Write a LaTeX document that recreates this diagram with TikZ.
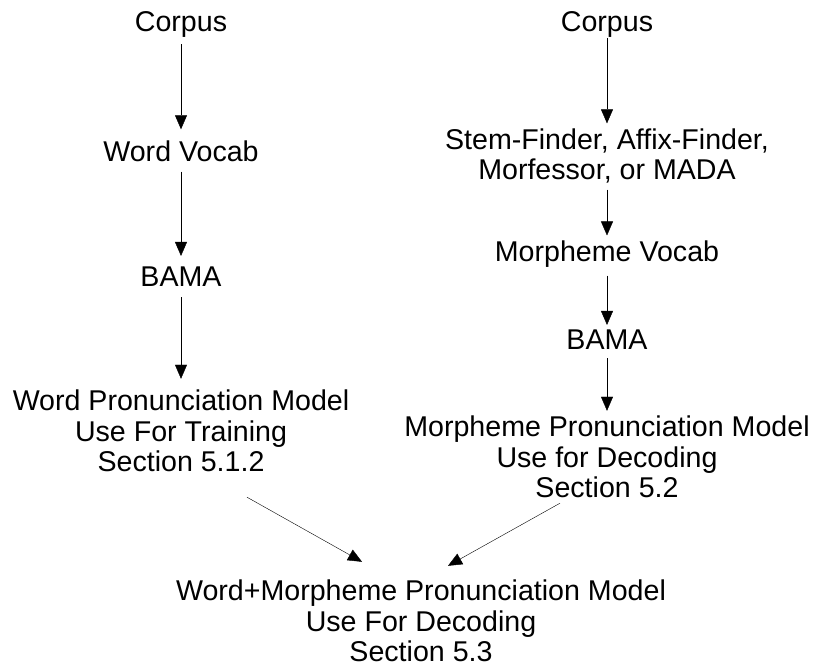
\documentclass[tikz,border=0pt]{standalone}
\usepackage{fontspec}
\setmainfont{Liberation Sans}
\usetikzlibrary{arrows.meta}
\begin{document}
\begin{tikzpicture}[>={Triangle[length=14bp,width=12bp]},line join=bevel,
  every node/.style={align=center,inner sep=0pt,font=\fontsize{28.6bp}{30.5bp}\selectfont}]
\useasboundingbox (0bp,0bp) rectangle (815bp,669bp);
%%
\node (corpusW) at (181bp,645bp) {Corpus};
  \node (wordvocab) at (181bp,518bp) {Word Vocab};
  \node (bamaW) at (181bp,392bp) {BAMA};
  \node (wordpron) at (181bp,238bp) {Word Pronunciation Model\\Use For Training\\Section 5.1.2};
  \node (corpusM) at (607bp,645bp) {Corpus};
  \node (finder) at (607bp,513bp) {Stem-Finder, Affix-Finder,\\Morfessor, or MADA};
  \node (morphvocab) at (607bp,415bp) {Morpheme Vocab};
  \node (bamaM) at (607bp,329bp) {BAMA};
  \node (morphpron) at (607bp,212bp) {Morpheme Pronunciation Model\\Use for Decoding\\Section 5.2};
  \node (combined) at (421bp,48bp) {Word+Morpheme Pronunciation Model\\Use For Decoding\\Section 5.3};
  \draw [black,->,shorten <=7bp,shorten >=11bp] (corpusW) -- (wordvocab);
  \draw [black,->,shorten <=10bp,shorten >=11bp] (wordvocab) -- (bamaW);
  \draw [black,->,shorten <=10bp,shorten >=11bp] (bamaW) -- (wordpron);
  \draw [black,->,shorten <=1bp,shorten >=5bp] (corpusM) -- (finder);
  \draw [black,->,shorten <=6bp,shorten >=5bp] (finder) -- (morphvocab);
  \draw [black,->,shorten <=8bp,shorten >=5bp] (morphvocab) -- (bamaM);
  \draw [black,->,shorten <=8bp,shorten >=5bp] (bamaM) -- (morphpron);
  \draw [black,->] ([xshift=66bp,yshift=-25bp]wordpron.south) -- ([xshift=-59bp,yshift=18bp]combined.north);
  \draw [black,->] ([xshift=-47bp,yshift=-5bp]morphpron.south) -- ([xshift=27bp,yshift=14bp]combined.north);
%
\end{tikzpicture}
\end{document}
